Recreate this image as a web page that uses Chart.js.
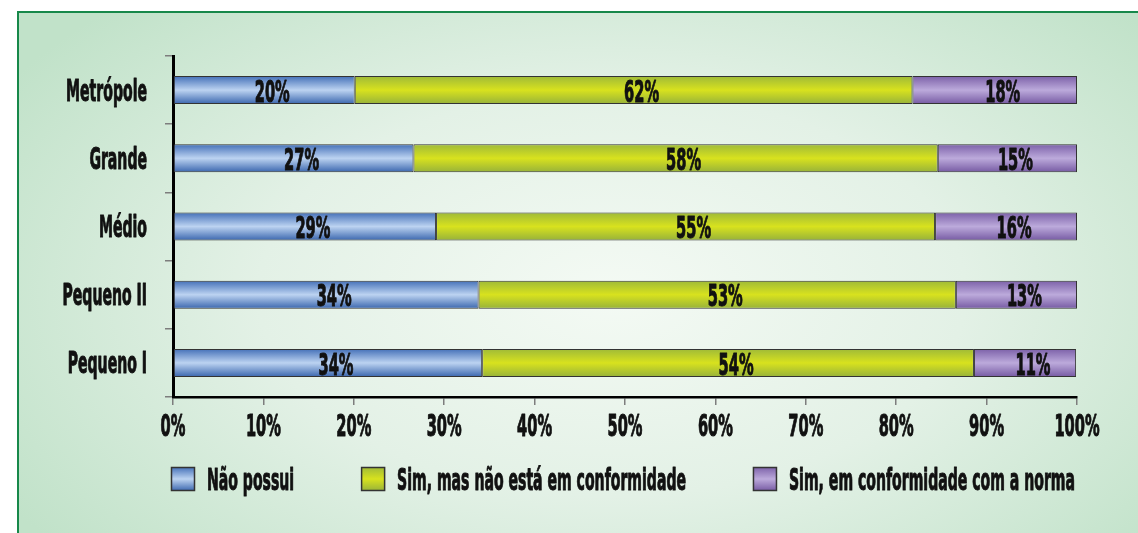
<!DOCTYPE html>
<html>
<head>
<meta charset="utf-8">
<title>Conformidade por porte de município</title>
<script src="https://cdn.jsdelivr.net/npm/chart.js@4.4.1/dist/chart.umd.min.js"></script>
<style>
    html, body { margin: 0; padding: 0; width: 1138px; height: 533px; overflow: hidden; background: #fff; }
    .panel {
        position: absolute; left: 17px; top: 11px; width: 1140px; height: 540px;
        border-left: 2px solid #17884a; border-top: 2px solid #17884a;
        background: radial-gradient(ellipse 62% 75% at 52% 52%, #f4faf4 0%, #e3f1e6 50%, #c1e2c9 100%);
    }
    .wrap { position: absolute; left: 0; top: 0; width: 1138px; height: 533px; }
</style>
</head>
<body>
<div class="panel"></div>
<div class="wrap"><canvas id="porteChart"></canvas></div>
<script>
// dados
const categories = ['Metrópole', 'Grande', 'Médio', 'Pequeno II', 'Pequeno I'];
const seriesNames = ['Não possui', 'Sim, mas não está em conformidade', 'Sim, em conformidade com a norma'];
const naoPossui = [20.1, 26.6, 29.1, 33.8, 34.2];
const simNaoConforme = [61.7, 58.0, 55.2, 52.8, 54.4];
const simConforme = [18.2, 15.4, 15.7, 13.4, 11.3];
const xTickLabels = ['0%', '10%', '20%', '30%', '40%', '50%', '60%', '70%', '80%', '90%', '100%'];

// estilo
const BAR_PCT = 0.41;
const FONT = '"Liberation Sans Narrow", "DejaVu Sans Condensed", "Liberation Sans", sans-serif';
const palettes = [
    ['#4470b8', '#bcd3f1', '#3a66ae'], // azul
    ['#9fba38', '#d8e21e', '#97b23a'], // amarelo
    ['#7c61a9', '#bcaadb', '#765aa3']  // roxo
];

function barFill(stops) {
    return function(ctx) {
        const chart = ctx.chart;
        const ys = chart.scales.y;
        if (!ys || ctx.dataIndex === undefined) return stops[1];
        const h = ys.height / categories.length * BAR_PCT;
        const yc = ys.getPixelForValue(ctx.dataIndex);
        if (!isFinite(h) || !isFinite(yc) || h <= 0) return stops[1];
        const g = chart.ctx.createLinearGradient(0, yc - h / 2, 0, yc + h / 2);
        g.addColorStop(0, stops[0]);
        g.addColorStop(0.5, stops[1]);
        g.addColorStop(1, stops[2]);
        return g;
    };
}

// texto condensado (a fonte original é muito estreita)
let squeezeText = null, squeezeNum = null;
function initSqueeze(ctx) {
    if (squeezeText !== null) return;
    ctx.save();
    ctx.font = 'bold 30px ' + FONT;
    squeezeText = 81 / ctx.measureText('Metrópole').width;
    squeezeNum = 35 / ctx.measureText('20%').width;
    ctx.restore();
}
function condensed(ctx, text, x, y, size, align, numeric) {
    initSqueeze(ctx);
    ctx.save();
    ctx.font = 'bold ' + size + 'px ' + FONT;
    ctx.translate(x, y);
    ctx.scale(numeric ? squeezeNum : squeezeText, 1);
    ctx.textAlign = align;
    ctx.textBaseline = 'alphabetic';
    ctx.fillStyle = '#111';
    ctx.strokeStyle = '#111';
    ctx.lineWidth = 1;
    ctx.lineJoin = 'round';
    ctx.fillText(text, 0, 0);
    ctx.strokeText(text, 0, 0);
    ctx.restore();
}
function condensedWidth(ctx, text, size) {
    initSqueeze(ctx);
    ctx.save();
    ctx.font = 'bold ' + size + 'px ' + FONT;
    const w = ctx.measureText(text).width * squeezeText;
    ctx.restore();
    return w;
}

const textPlugin = {
    id: 'textPlugin',
    afterDraw(chart) {
        const ctx = chart.ctx;
        const area = chart.chartArea;
        const xs = chart.scales.x;
        const ys = chart.scales.y;

        // rótulos das categorias
        categories.forEach((c, i) => {
            condensed(ctx, c, area.left - 26, ys.getPixelForValue(i) + 10.5, 30, 'right', false);
        });

        // rótulos do eixo x
        xs.ticks.forEach((t, i) => {
            condensed(ctx, t.label || xTickLabels[i], xs.getPixelForTick(i), area.bottom + 38.5, 30, 'center', true);
        });

        // valores dentro das barras
        chart.data.datasets.forEach((ds, di) => {
            const meta = chart.getDatasetMeta(di);
            meta.data.forEach((bar, i) => {
                const cx = (bar.base + bar.x) / 2 + 8;
                condensed(ctx, Math.round(ds.data[i]) + '%', cx, bar.y + 11.7, 30, 'center', true);
            });
        });

        // legenda
        const box = 24, gap = 12, size = 30;
        const widths = chart.data.datasets.map(ds => box + gap + condensedWidth(ctx, ds.label, size));
        const total = widths.reduce((a, b) => a + b, 0);
        const spacing = (area.right - area.left - total) / (widths.length - 1);
        let x = area.left - 2;
        const top = area.bottom + 70;
        chart.data.datasets.forEach((ds, di) => {
            const g = ctx.createLinearGradient(0, top, 0, top + box);
            g.addColorStop(0, palettes[di][0]);
            g.addColorStop(0.5, palettes[di][1]);
            g.addColorStop(1, palettes[di][2]);
            ctx.save();
            ctx.fillStyle = g;
            ctx.fillRect(x, top, box, box);
            ctx.strokeStyle = '#333';
            ctx.lineWidth = 1.5;
            ctx.strokeRect(x + 0.5, top + 0.5, box - 1, box - 1);
            ctx.restore();
            condensed(ctx, ds.label, x + box + gap, top + box - 1, size, 'left', false);
            x += widths[di] + spacing;
        });
    }
};

const porteCtx = document.getElementById('porteChart').getContext('2d');
const porteChart = new Chart(porteCtx, {
    type: 'bar',
    data: {
        labels: categories,
        datasets: [naoPossui, simNaoConforme, simConforme].map((values, i) => ({
            label: seriesNames[i],
            data: values,
            backgroundColor: barFill(palettes[i]),
            borderColor: '#333',
            borderWidth: 1,
            borderSkipped: false,
            barPercentage: BAR_PCT,
            categoryPercentage: 1
        }))
    },
    options: {
        indexAxis: 'y',
        responsive: true,
        maintainAspectRatio: false,
        animation: false,
        layout: {
            padding: { left: 165, right: 61, top: 56, bottom: 128 }
        },
        plugins: {
            legend: { display: false },
            tooltip: { enabled: false }
        },
        scales: {
            x: {
                stacked: true,
                min: 0,
                max: 100,
                ticks: {
                    display: false,
                    stepSize: 10,
                    callback: (v, i) => xTickLabels[i]
                },
                grid: {
                    drawOnChartArea: false,
                    tickLength: 8,
                    color: '#7d7d7d',
                    lineWidth: 1.5
                },
                border: { color: '#000', width: 2.5 }
            },
            y: {
                stacked: true,
                ticks: { display: false },
                grid: {
                    drawOnChartArea: false,
                    tickLength: 8,
                    color: '#7d7d7d',
                    lineWidth: 1.5
                },
                border: { color: '#000', width: 3 }
            }
        }
    },
    plugins: [textPlugin]
});
</script>
</body>
</html>
